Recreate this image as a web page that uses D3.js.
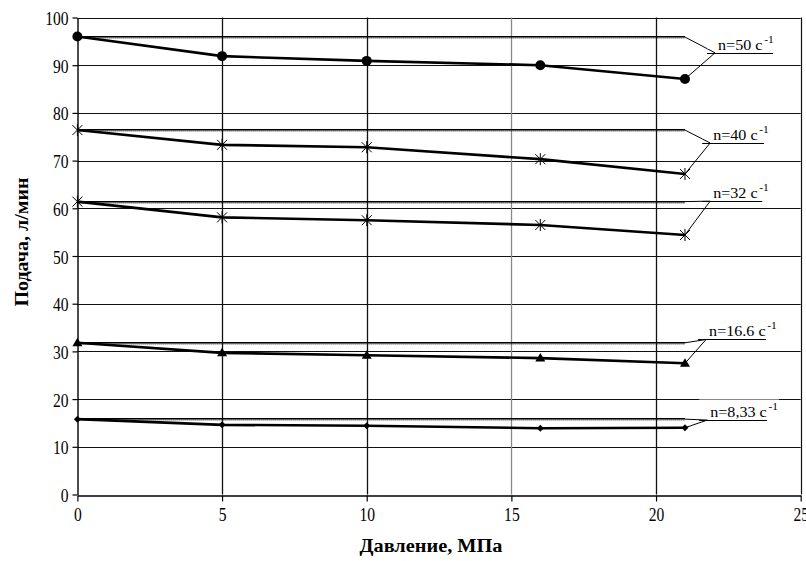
<!DOCTYPE html>
<html><head><meta charset="utf-8">
<script src="https://cdn.jsdelivr.net/npm/d3@7"></script>
<style>
html,body{margin:0;padding:0;background:#fff;}
svg{display:block;}
text{font-family:"Liberation Serif","Times New Roman",serif;fill:#000;}
</style></head>
<body>
<svg id="chart" width="806" height="561"></svg>
<script>
// ---- data ----
const pressure = [0, 5, 10, 16, 21];
const seriesLabels = ["n=50 c", "n=40 c", "n=32 c", "n=16.6 c", "n=8,33 c"];
const flow50 = [96.0, 91.9, 90.9, 90.0, 87.1];
const flow40 = [76.4, 73.3, 72.8, 70.3, 67.2];
const flow32 = [61.4, 58.1, 57.5, 56.5, 54.4];
const flow16 = [31.8, 29.7, 29.2, 28.6, 27.5];
const flow8 = [15.8, 14.6, 14.4, 13.9, 14.0];
const theoretical = [95.9, 76.4, 61.4, 31.8, 15.8];
const theoryEnd = 21;
const calloutX = [22.04, 21.87, 21.87, 21.73, 21.77];
const calloutY = [92.6, 73.7, 61.5, 32.5, 15.6];
const calloutEndX = [24.04, 23.73, 23.67, 23.8, 23.84];
const markerTypes = ["circle", "star", "star", "triangle", "diamond"];
const xTicks = [0, 5, 10, 15, 20, 25];
const yTicks = [0, 10, 20, 30, 40, 50, 60, 70, 80, 90, 100];
const xTitle = "Давление, МПа";
const yTitle = "Подача, л/мин";

const allFlows = [flow50, flow40, flow32, flow16, flow8];

// ---- layout ----
const svg = d3.select("#chart");
svg.append("rect").attr("width", 806).attr("height", 561).attr("fill", "#fff");
const x = d3.scaleLinear().domain([0, 25]).range([77.4, 800.7]);
const y = d3.scaleLinear().domain([0, 100]).range([494.5, 17.5]);

// grid
const g = svg.append("g");
g.selectAll("line.hg").data(yTicks.filter(d => d > 0)).enter().append("line")
  .attr("x1", x(0)).attr("x2", x(25))
  .attr("y1", d => Math.round(y(d)) + 0.5).attr("y2", d => Math.round(y(d)) + 0.5)
  .attr("stroke", "#111").attr("stroke-width", 1);
g.selectAll("line.vg").data(xTicks.filter(d => d > 0)).enter().append("line")
  .attr("y1", y(0)).attr("y2", y(100))
  .attr("x1", d => Math.round(x(d)) + 0.5).attr("x2", d => Math.round(x(d)) + 0.5)
  .attr("stroke", d => d === 15 ? "#888" : "#111").attr("stroke-width", d => d === 25 ? 1.2 : 1.3);

// axes
const xAxis = svg.append("g").attr("transform", `translate(0,${Math.round(y(0)) + 0.5})`)
  .call(d3.axisBottom(x).tickValues(xTicks).tickSize(6).tickSizeOuter(0).tickFormat(d3.format("d")));
const yAxis = svg.append("g").attr("transform", `translate(${Math.round(x(0)) + 0.5},0)`)
  .call(d3.axisLeft(y).tickValues(yTicks).tickSize(5).tickSizeOuter(0).tickFormat(d3.format("d")));
[xAxis, yAxis].forEach(a => {
  a.attr("font-family", null);
  a.select(".domain").attr("stroke", "#000").attr("stroke-width", 1.4);
  a.selectAll(".tick line").attr("stroke", "#000").attr("stroke-width", 1.2);
  a.selectAll(".tick text").style("font-family", "'Liberation Serif', serif").attr("font-size", 19).attr("fill", "#111");
});
xAxis.selectAll(".tick text").attr("dy", null).attr("y", 0)
  .attr("transform", "translate(0,25) scale(0.82,1)");
yAxis.selectAll(".tick text").attr("dy", null).attr("x", 0).attr("y", 0)
  .attr("text-anchor", "end")
  .attr("transform", "translate(-9,7) scale(0.82,1)");

// theoretical lines
const lineGen = d3.line().x(d => x(d[0])).y(d => y(d[1]));
theoretical.forEach((v, i) => {
  const yy = Math.round(y(v));
  svg.append("line").attr("x1", x(0)).attr("x2", x(theoryEnd))
    .attr("y1", yy - 0.3).attr("y2", yy - 0.3).attr("stroke", "#000").attr("stroke-width", 1.6);
  svg.append("line").attr("x1", x(0)).attr("x2", x(theoryEnd))
    .attr("y1", yy + 1).attr("y2", yy + 1).attr("stroke", "#222").attr("stroke-width", 1)
    .attr("stroke-dasharray", "1,1");
  svg.append("path").attr("d", lineGen([[theoryEnd, v], [calloutX[i], calloutY[i]]]))
    .attr("fill", "none").attr("stroke", "#000").attr("stroke-width", 1);
});

// measured lines
allFlows.forEach((arr, i) => {
  const pts = pressure.map((p, k) => [p, arr[k]]);
  svg.append("path").attr("d", lineGen(pts)).attr("fill", "none")
    .attr("stroke", "#000").attr("stroke-width", 2.6);
  // leader
  svg.append("path").attr("d", lineGen([pts[pts.length - 1], [calloutX[i], calloutY[i]]]))
    .attr("fill", "none").attr("stroke", "#000").attr("stroke-width", 1);
});

// markers
function drawMarker(type, cx, cy) {
  if (type === "circle") {
    svg.append("circle").attr("cx", cx).attr("cy", cy).attr("r", 5).attr("fill", "#000");
  } else if (type === "star") {
    svg.append("path").attr("transform", `translate(${cx},${cy})`)
      .attr("d", "M-5,-5L5,5M-5,5L5,-5M0,-6L0,6")
      .attr("stroke", "#000").attr("stroke-width", 1).attr("fill", "none");
  } else if (type === "triangle") {
    svg.append("path").attr("transform", `translate(${cx},${cy})`)
      .attr("d", "M0,-5L5,3.5L-5,3.5Z").attr("fill", "#000");
  } else if (type === "diamond") {
    svg.append("path").attr("transform", `translate(${cx},${cy})`)
      .attr("d", "M0,-3.5L3.5,0L0,3.5L-3.5,0Z").attr("fill", "#000");
  }
}
allFlows.forEach((arr, i) => {
  pressure.forEach((p, k) => drawMarker(markerTypes[i], x(p), y(arr[k])));
});

// callout labels
seriesLabels.forEach((lab, i) => {
  const ax = x(calloutX[i]), ay = Math.round(y(calloutY[i])) + 0.5;
  const lg = svg.append("g");
  const bg = lg.append("rect").attr("fill", "#fff");
  const t = lg.append("text")
    .attr("transform", `translate(${ax + 3},${ay - 4}) scale(1.15,1)`)
    .attr("font-size", 14);
  t.append("tspan").text(lab);
  t.append("tspan").attr("font-size", 10).attr("dy", -7).attr("dx", 1.5).text("-1");
  const bb = t.node().getBBox();
  bg.attr("x", ax - 8).attr("y", ay - 4 - 17).attr("width", bb.width * 1.15 + 12).attr("height", 16);
  svg.append("line").attr("x1", ax - 8).attr("x2", x(calloutEndX[i]))
    .attr("y1", ay).attr("y2", ay).attr("stroke", "#000").attr("stroke-width", 1);
});

// titles
svg.append("text").attr("x", 431).attr("y", 552).attr("text-anchor", "middle")
  .attr("font-weight", "bold").attr("font-size", 18.5)
  .attr("textLength", 143).attr("lengthAdjust", "spacingAndGlyphs").text(xTitle);
svg.append("text").attr("transform", "translate(28,242) rotate(-90)").attr("text-anchor", "middle")
  .attr("font-weight", "bold").attr("font-size", 18.5)
  .attr("textLength", 129).attr("lengthAdjust", "spacingAndGlyphs").text(yTitle);
</script>
</body></html>
